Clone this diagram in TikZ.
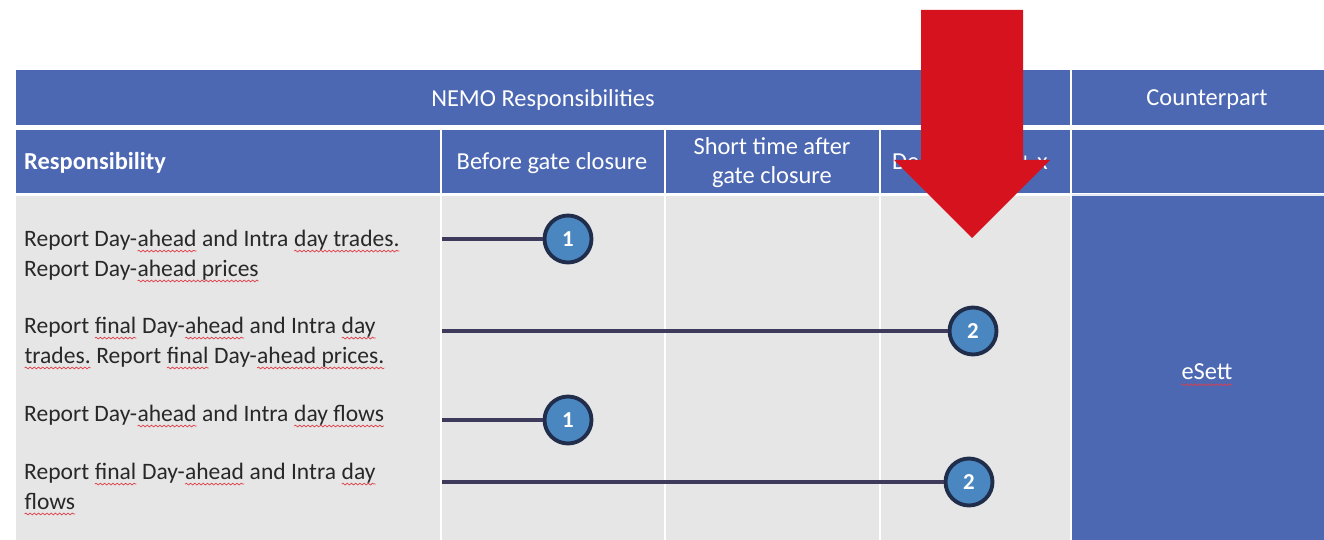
\documentclass[tikz,border=0pt]{standalone}
\usepackage{fontspec}
\setmainfont{Carlito}
\usetikzlibrary{decorations.pathmorphing}
\definecolor{nemoblue}{RGB}{77,104,178}
\definecolor{cellgray}{RGB}{230,230,230}
\definecolor{arrowred}{RGB}{214,18,30}
\definecolor{stepfill}{RGB}{74,134,192}
\definecolor{stepdraw}{RGB}{32,46,76}
\definecolor{linkcol}{RGB}{62,58,92}
\definecolor{textgray}{RGB}{40,40,40}
\definecolor{wavered}{RGB}{225,60,70}
\newcommand{\spl}[1]{\tikz[baseline=(w.base)]{\node[inner sep=0pt, outer sep=0pt] (w) {#1};
  \draw[wavered, line width=0.4pt, decorate, decoration={snake, amplitude=0.5pt, segment length=2.4pt}]
  ([yshift=-2.8pt]w.base west) -- ([yshift=-2.8pt]w.base east);}}
\begin{document}
\begin{tikzpicture}[x=0.02cm, y=-0.02cm,
  headtext/.style={text=white, font=\fontsize{13.9}{16.5}\selectfont},
  rowtext/.style={anchor=west, align=left, text=textgray, font=\fontsize{13.4}{17}\selectfont},
  stepnode/.style={shape=circle, draw=stepdraw, line width=2.2pt, fill=stepfill, minimum size=0.94cm, inner sep=0pt, text=white, font=\fontsize{13}{13}\selectfont\bfseries}]
\useasboundingbox (0,0) rectangle (1324,540);
\fill[white] (0,0) rectangle (1324,540);
% table cells
\fill[nemoblue] (16,70) rectangle (1324,125);
\fill[nemoblue] (16,130) rectangle (1324,193);
\fill[cellgray] (16,196) rectangle (1070,540);
\fill[nemoblue] (1070,196) rectangle (1324,540);
\draw[white, line width=1.5pt] (1071,70) -- (1071,540);
\draw[white!85!nemoblue, line width=1pt] (1072,195) -- (1324,195);
\foreach \cx in {441,665,880} \draw[white, line width=1pt] (\cx,130) -- (\cx,540);
% headers
\node[headtext] (nemo) at (543,100) {NEMO Responsibilities};
\node[headtext] (counter) at (1207,100) {Counterpart};
\node[headtext, anchor=west, font=\fontsize{13.9}{16.5}\selectfont\bfseries] (resp) at (18,163) {Responsibility};
\node[headtext] (before) at (552,163) {Before gate closure};
\node[headtext, align=center] (short) at (772,163) {Short time after\\gate closure};
\node[headtext, anchor=west] (later) at (886,163) {Delivery day + x};
% rows
\node[rowtext] (r1) at (18,256) {Report Day-\spl{ahead} and Intra \spl{day trades.}\\Report Day-\spl{ahead prices}};
\node[rowtext] (r2) at (18,343) {Report \spl{final} Day-\spl{ahead} and Intra \spl{day}\\\spl{trades.} Report \spl{final} Day-\spl{ahead prices.}};
\node[rowtext] (r3) at (18,416) {Report Day-\spl{ahead} and Intra \spl{day flows}};
\node[rowtext] (r4) at (18,489) {Report \spl{final} Day-\spl{ahead} and Intra \spl{day}\\\spl{flows}};
\node[text=white, font=\fontsize{13.9}{16.5}\selectfont] (esett) at (1207,375) {\spl{eSett}};
% steps
\coordinate (s1) at (442,239);
\coordinate (s2) at (442,331);
\coordinate (s3) at (442,420);
\coordinate (s4) at (442,482);
\node[stepnode] (c1) at (568,239) {1};
\node[stepnode] (c2) at (973,331) {2};
\node[stepnode] (c3) at (568,420) {1};
\node[stepnode] (c4) at (969,482) {2};
\path [-, line width=2.4pt, draw=linkcol] (s1) edge (c1);
\path [-, line width=2.4pt, draw=linkcol] (s2) edge (c2);
\path [-, line width=2.4pt, draw=linkcol] (s3) edge (c3);
\path [-, line width=2.4pt, draw=linkcol] (s4) edge (c4);
% red arrow
\fill[arrowred] (921,10) -- (1023,10) -- (1023,160) -- (1050,160) -- (972,238) -- (894,160) -- (921,160) -- cycle;
\end{tikzpicture}
\end{document}
